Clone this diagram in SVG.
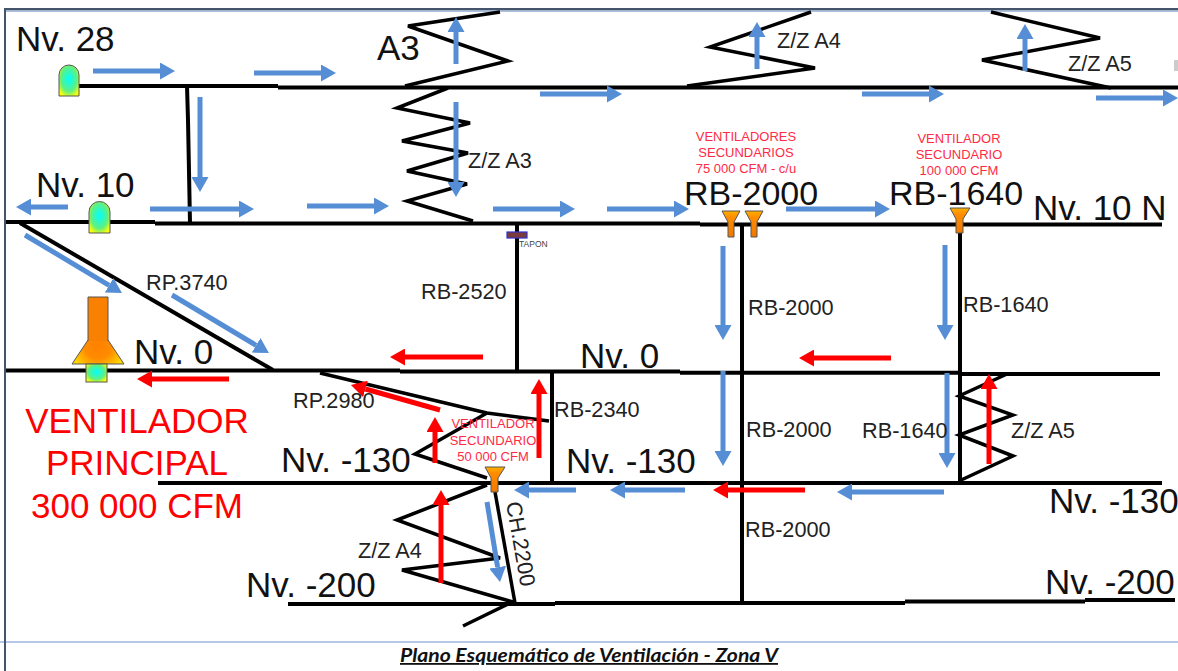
<svg xmlns="http://www.w3.org/2000/svg" width="1178" height="671" viewBox="0 0 1178 671">
<style>
text{font-family:"Liberation Sans",Arial,sans-serif;fill:#111}
.lg{font-size:35px}
.rbl{font-size:34px}
.sm{font-size:21.700px;fill:#222}
.rb{font-size:35px;fill:#f00;text-anchor:middle}
.rs{font-size:13px;fill:#ff2a45;text-anchor:middle}
.k{fill:none;stroke:#000;stroke-width:4;stroke-linejoin:miter}
.z{fill:none;stroke:#000;stroke-width:3.5;stroke-linejoin:miter}
.b{stroke:#558ed5;stroke-width:5;fill:none;marker-end:url(#ab)}
.r{stroke:#f00;stroke-width:5;fill:none;marker-end:url(#ar)}
.fan{fill:url(#fang);stroke:#555;stroke-width:1}
.portal{fill:url(#pg);stroke:#555;stroke-width:1}
</style>
<defs>
<marker id="ab" markerUnits="userSpaceOnUse" markerWidth="15" markerHeight="17" refX="0" refY="8.5" orient="auto"><path d="M0 0L15 8.5L0 17Z" fill="#558ed5"/></marker>
<marker id="ar" markerUnits="userSpaceOnUse" markerWidth="15" markerHeight="17" refX="0" refY="8.5" orient="auto"><path d="M0 0L15 8.5L0 17Z" fill="#f00"/></marker>
<radialGradient id="pg" cx="50%" cy="45%" r="62%"><stop offset="0" stop-color="#00ffff"/><stop offset=".65" stop-color="#60f080"/><stop offset="1" stop-color="#ffff00"/></radialGradient>
<linearGradient id="fang" x1="0" y1="0" x2="0" y2="1"><stop offset="0" stop-color="#ffb000"/><stop offset=".25" stop-color="#ff8c00"/><stop offset="1" stop-color="#f07800"/></linearGradient>
<radialGradient id="mf" gradientUnits="userSpaceOnUse" cx="98" cy="345" r="28"><stop offset="0" stop-color="#ff8000"/><stop offset=".5" stop-color="#ff8c00"/><stop offset="1" stop-color="#ffd800"/></radialGradient>
</defs>
<rect width="1178" height="671" fill="#fff"/>
<g id="frame">
<rect x="4" y="8" width="1174" height="2.5" fill="#44546a"/>
<rect x="6" y="10.5" width="1172" height="1.5" fill="#a9c0e0"/>
<rect x="0" y="641" width="1178" height="2" fill="#b4c7e7"/>
<rect x="4" y="8" width="2" height="663" fill="#44546a"/>
<rect x="1174" y="60" width="4" height="11" fill="#ccc"/>
</g>
<g id="connectors">
<path class="k" d="M79 86H278M278 87.500H1178"/>
<path class="k" d="M187 86L188 120L190 223"/>
<path class="k" d="M6 222H155M155 223.500H700M700 224.500H1162"/>
<path class="k" d="M20 223L273 370"/>
<path class="k" d="M6 370.500H400M400 371.500H680M680 372.700H960M960 374H1160"/>
<path class="k" d="M158 483H1162"/>
<path class="k" d="M288 604H555M555 603H905M905 601.500H1085M1085 600H1175"/>
<path class="k" d="M517 224V370"/>
<path class="k" d="M742 224V603"/>
<path class="k" d="M960 225V483"/>
<path class="k" d="M552 372V483"/>
<path class="z" d="M495 492L515 603" stroke-width="3"/>
<path class="z" d="M463 626L510 603"/>
<path class="z" d="M500 12L408 26L508 61L405 86"/>
<path class="z" d="M448 88L397 108L470 123L402 141L468 153L407 171L467 184L407 201L473 221"/>
<path class="z" d="M811 12L710 47L815 68L687 86"/>
<path class="z" d="M991 12L1100 38L982 60L1111 88"/>
<path class="z" d="M320 373L487 413L549 421"/>
<path class="z" d="M487 413L415 454L487 478"/>
<path class="z" d="M487 485L397 520L500 558L402 570L513 602"/>
<path class="z" d="M1007 374L959 396L1013 415L959 435L1013 456L959 481"/>
<line class="b" x1="93" y1="71" x2="160" y2="71"/>
<line class="b" x1="254" y1="73" x2="321" y2="73"/>
<line class="b" x1="200" y1="97" x2="200" y2="177"/>
<line class="b" x1="68" y1="207" x2="31" y2="207"/>
<line class="b" x1="150" y1="209" x2="239" y2="209"/>
<line class="b" x1="307" y1="206" x2="374" y2="206"/>
<line class="b" x1="456" y1="64" x2="456" y2="32"/>
<line class="b" x1="456" y1="102" x2="456" y2="182"/>
<line class="b" x1="540" y1="94" x2="607" y2="94"/>
<line class="b" x1="493" y1="209" x2="560" y2="209"/>
<line class="b" x1="607" y1="209" x2="674" y2="209"/>
<line class="b" x1="757" y1="69" x2="757" y2="37"/>
<line class="b" x1="862" y1="94" x2="929" y2="94"/>
<line class="b" x1="786" y1="209" x2="875" y2="209"/>
<line class="b" x1="1025" y1="71" x2="1025" y2="39"/>
<line class="b" x1="1096" y1="98" x2="1163" y2="98"/>
<line class="b" x1="945" y1="245" x2="945" y2="325"/>
<line class="b" x1="723" y1="246" x2="723" y2="325"/>
<line class="b" x1="723" y1="371" x2="723" y2="451"/>
<line class="b" x1="947" y1="373" x2="947" y2="453"/>
<line class="b" x1="944" y1="492" x2="852" y2="492"/>
<line class="b" x1="685" y1="490" x2="625" y2="490"/>
<line class="b" x1="576" y1="490" x2="529" y2="490"/>
<line class="b" x1="487" y1="502" x2="497.600" y2="567.200"/>
<line class="b" x1="25" y1="235" x2="109.100" y2="285.300"/>
<line class="b" x1="172" y1="295" x2="256.100" y2="345.300"/>
<line class="r" x1="229" y1="379" x2="152" y2="379"/>
<line class="r" x1="483" y1="357" x2="405" y2="357"/>
<line class="r" x1="891" y1="358" x2="814" y2="358"/>
<line class="r" x1="805" y1="490" x2="728" y2="490"/>
<line class="r" x1="989" y1="464" x2="989" y2="389"/>
<line class="r" x1="440" y1="410" x2="365.400" y2="389"/>
<line class="r" x1="435" y1="463" x2="435" y2="432"/>
<line class="r" x1="539" y1="458" x2="539" y2="394"/>
<line class="r" x1="441" y1="583" x2="441" y2="505"/>
</g>
<g id="portal-nv28"><path class="portal" d="M59 96V75A10 10 0 0 1 79 75V96Z"/></g>
<g id="portal-nv10"><path class="portal" d="M89 233V212A10.500 10.500 0 0 1 110 212V233Z"/></g>
<g id="main-fan">
<path d="M88 340L72 364H124L108 340Z" fill="url(#mf)" stroke="#555"/>
<path d="M88 341V297H108V341" fill="#f98000" stroke="#555"/>
<rect class="portal" x="86" y="364" width="21" height="18"/>
</g>
<g id="fan-rb2000-a"><path class="fan" d="M722 211H740L734 222V237H728V222Z"/></g>
<g id="fan-rb2000-b"><path class="fan" d="M745 211H763L757 222V237H751V222Z"/></g>
<g id="fan-rb1640"><path class="fan" d="M950 208H970L963 219V233H956V219Z"/></g>
<g id="fan-ch2200"><path class="fan" d="M485 467H505L498 478V492H491V478Z"/></g>
<g id="tapon"><rect x="507" y="232" width="20" height="6" fill="#7b3b3b" stroke="#3333cc" stroke-width="1.200"/><text x="519" y="247" font-size="8.500" style="fill:#444">TAPON</text></g>
<g id="labels">
<text class="lg" x="16" y="51">Nv. 28</text>
<text class="lg" x="36" y="197">Nv. 10</text>
<text class="lg" x="377" y="60">A3</text>
<text class="lg" x="134" y="364">Nv. 0</text>
<text class="lg" x="580" y="368">Nv. 0</text>
<text class="lg" x="281" y="472">Nv. -130</text>
<text class="lg" x="566" y="473">Nv. -130</text>
<text class="lg" x="1049" y="513">Nv. -130</text>
<text class="lg" x="246" y="597">Nv. -200</text>
<text class="lg" x="1045" y="594">Nv. -200</text>
<text class="lg" x="1033" y="220">Nv. 10 N</text>
<text class="rbl" x="684" y="205">RB-2000</text>
<text class="rbl" x="889" y="205">RB-1640</text>
<text class="sm" x="146" y="290">RP.3740</text>
<text class="sm" x="421" y="299">RB-2520</text>
<text class="sm" x="748" y="315">RB-2000</text>
<text class="sm" x="963" y="312">RB-1640</text>
<text class="sm" x="468" y="168">Z/Z A3</text>
<text class="sm" x="777" y="48">Z/Z A4</text>
<text class="sm" x="1068" y="71">Z/Z A5</text>
<text class="sm" x="293" y="408">RP.2980</text>
<text class="sm" x="554" y="417">RB-2340</text>
<text class="sm" x="746" y="437">RB-2000</text>
<text class="sm" x="862" y="438">RB-1640</text>
<text class="sm" x="1011" y="438">Z/Z A5</text>
<text class="sm" x="745" y="537">RB-2000</text>
<text class="sm" x="358" y="558">Z/Z A4</text>
<text class="sm" transform="translate(506 503) rotate(80)">CH.2200</text>
<text class="rb" x="137" y="433">VENTILADOR</text>
<text class="rb" x="137" y="475">PRINCIPAL</text>
<text class="rb" x="137" y="518">300 000 CFM</text>
<text class="rs" x="746" y="141">VENTILADORES</text>
<text class="rs" x="746" y="157">SECUNDARIOS</text>
<text class="rs" x="746" y="173">75 000 CFM - c/u</text>
<text class="rs" x="959" y="143">VENTILADOR</text>
<text class="rs" x="959" y="159">SECUNDARIO</text>
<text class="rs" x="959" y="175">100 000 CFM</text>
<text class="rs" x="493" y="428">VENTILADOR</text>
<text class="rs" x="493" y="445">SECUNDARIO</text>
<text class="rs" x="493" y="461">50 000 CFM</text>
<text x="400" y="662" font-size="18" font-weight="bold" font-style="italic" text-decoration="underline" textLength="378" lengthAdjust="spacingAndGlyphs" style="font-family:Lato,'Liberation Sans',sans-serif">Plano Esquemático de Ventilación - Zona V</text>
</g>
</svg>
